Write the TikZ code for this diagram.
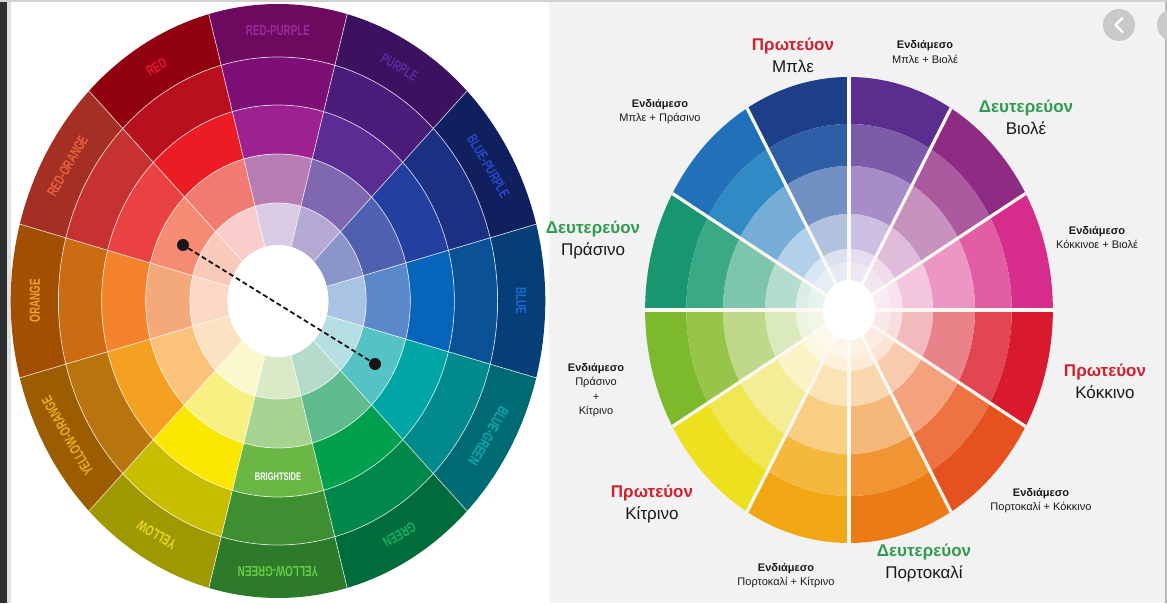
\documentclass[tikz,border=0pt]{standalone}
\usepackage{fontspec}
\usepackage{graphicx}
\setmainfont{Liberation Sans}
\definecolor{primred}{HTML}{D2202E}
\definecolor{secgreen}{HTML}{2E9B4E}
\definecolor{panelgray}{HTML}{F2F2F2}
\definecolor{stripgray}{HTML}{2C3031}
\definecolor{spokecream}{HTML}{FBF8F1}
\definecolor{dotblack}{HTML}{1A1414}

% annular wedge: colour, start angle, end angle, inner radius, outer radius
\newcommand{\wedgefill}[5]{%
  \fill[#1] (#2:#5) arc[start angle=#2, end angle=#3, radius=#5]
    -- (#3:#4) arc[start angle=#3, end angle=#2, radius=#4] -- cycle;}
% narrow capitals for the wheel names
\newcommand{\narrow}[1]{\scalebox{0.68}[1]{#1}}

\begin{document}
\begin{tikzpicture}[x=1pt, y=1pt,
  % Wheel styles
  ringline/.style={draw=white, line width=0.7pt, opacity=0.75},
  spoke/.style={draw=spokecream, line width=3.2pt},
  wheelname/.style={font=\bfseries\fontsize{14.5}{14.5}\selectfont, inner sep=0pt},
  brand/.style={font=\bfseries\fontsize{11}{11}\selectfont, text=white, inner sep=0pt},
  % Complement pair
  dot/.style={circle, fill=dotblack, minimum size=12pt, inner sep=0pt},
  pair/.style={draw=dotblack, line width=1.8pt, dash pattern=on 5pt off 3pt},
  % Label styles
  bigname/.style={font=\fontsize{17}{22}\selectfont, align=center, text=black!90},
  midname/.style={font=\fontsize{11}{14.5}\selectfont, align=center, text=black!90},
  btn/.style={circle, fill=black!21, minimum size=32pt, inner sep=0pt},
  chev/.style={draw=white, line width=2.4pt, line cap=round, line join=round},
]
\useasboundingbox (0,0) rectangle (1167,603);

% === Panels ===
\fill[stripgray] (0,0) rectangle (7,603);
\fill[black!12] (7,0) rectangle (11,603);
\fill[white] (11,0) rectangle (549,601);
\fill[panelgray] (549,0) rectangle (1165,601);
\fill[black!28] (1165,0) rectangle (1167,603);
\fill[black!18] (0,601) rectangle (1167,603);

% === Left wheel ===
\begin{scope}[shift={(278,302)}, xscale=0.9]
  \foreach \a/\ca/\cb/\cc/\cd/\ce in {
      90/6D0A5F/7E0F77/9E2191/B97DB6/D9CBE3,
      60/3C1260/4A1D7A/5B2D93/8068B0/B3A9D3,
      30/10205F/1B3082/233FA0/5060B0/8C95CA,
      0/063F78/0A5196/0665BA/5A88CB/A9C3E4,
      -30/006A72/008A8C/00A6A6/55C3C3/B5DFE2,
      -60/006B3B/00874A/00A04E/5DBB8D/B6DBCB,
      -90/2E7A2B/3E8F32/6BB745/A6D38F/DAE9C7,
      -120/9E9900/C9BD00/FBE800/F8F081/FBF8CD,
      -150/9B5D00/B9750D/F4A021/FAC27B/FCE1C2,
      180/A34F02/CB6B12/F4832B/F4A97A/FBD8C5,
      150/A52F22/C63131/EA4142/F48B72/F9C9BA,
      120/91000F/B8111D/EC1C24/F17B71/F8CDCB}{
    \pgfmathsetmacro\sa{\a-15}
    \pgfmathsetmacro\ea{\a+15}
    \definecolor{wa}{HTML}{\ca}\definecolor{wb}{HTML}{\cb}
    \definecolor{wc}{HTML}{\cc}\definecolor{wd}{HTML}{\cd}
    \definecolor{we}{HTML}{\ce}
    \wedgefill{wa}{\sa}{\ea}{244}{297}
    \wedgefill{wb}{\sa}{\ea}{196}{244}
    \wedgefill{wc}{\sa}{\ea}{147}{196}
    \wedgefill{wd}{\sa}{\ea}{98}{147}
    \wedgefill{we}{\sa}{\ea}{56}{98}
  }
  % thin ring and spoke lines
  \foreach \r in {98,147,196,244}
    \draw[ringline] (0,0) circle[radius=\r];
  \foreach \b in {15,45,...,345}
    \draw[ringline] (\b:56) -- (\b:297);
  \fill[white] (0,0) circle[radius=56];
  % outer ring names
  \foreach \a/\wname/\tc in {
      90/RED-PURPLE/9B2A99, 60/PURPLE/5A2AA0, 30/BLUE-PURPLE/2A48C8,
      0/BLUE/1A6AD0, -30/BLUE-GREEN/10A8B0, -60/GREEN/1CB060,
      -90/YELLOW-GREEN/66CC44, -120/YELLOW/E8D820, -150/YELLOW-ORANGE/E8B020,
      180/ORANGE/F0A030, 150/RED-ORANGE/E86040, 120/RED/E0182A}{
    \definecolor{lbl}{HTML}{\tc}
    \node[wheelname, text=lbl, rotate=\a-90] (n\a) at (\a:270) {\narrow{\wname}};
  }
  \node[brand] (brand) at (-90:176) {\narrow{BRIGHTSIDE}};
\end{scope}

% complementary pair
\node[dot] (dotA) at (183,358) {};
\node[dot] (dotB) at (375,239) {};
\draw[pair] (dotA) -- (dotB);

% === Right wheel ===
\begin{scope}[shift={(849,293)}, xscale=0.875]
  \foreach \a/\ca/\cb/\cc/\cd/\ce in {
      105/1C3F87/2D5EA6/7090C4/B2C2DE/DAE2F0,
      75/5B2D8E/7C5CA9/A68DC8/CDBFE1/E6DEF0,
      45/8E2C84/AB5AA0/C892BE/DFBCD9/EEDCEB,
      15/D62C8C/E35DA5/EC97C3/F4C6DD/F9E2EE,
      -15/D91A2D/E24652/EA8389/F3BABE/F9DDDF,
      -45/E5521F/ED7442/F3A27C/F8CBAE/FBE4D6,
      -75/EB7B15/F09434/F5B87A/F9D7AF/FCEBD7,
      -105/F1A613/F5B83C/F8CF82/FBE3B5/FDF1DA,
      -135/EDE11F/F1E755/F5ED95/F9F3C5/FCF9E2,
      195/7DB92D/97C549/BDD989/DBEABD/EDF4DE,
      165/17966F/3BA985/7DC5AB/B5DDCD/DAEEE6,
      135/2071B9/308BC5/75ADD7/B1D0E9/D8E7F4}{
    \pgfmathsetmacro\sa{\a-15}
    \pgfmathsetmacro\ea{\a+15}
    \definecolor{wa}{HTML}{\ca}\definecolor{wb}{HTML}{\cb}
    \definecolor{wc}{HTML}{\cc}\definecolor{wd}{HTML}{\cd}
    \definecolor{we}{HTML}{\ce}
    \wedgefill{wa}{\sa}{\ea}{186}{233}
    \wedgefill{wb}{\sa}{\ea}{144}{186}
    \wedgefill{wc}{\sa}{\ea}{96}{144}
    \wedgefill{wd}{\sa}{\ea}{61}{96}
    \wedgefill{we}{\sa}{\ea}{30}{61}
  }
  \foreach \b in {0,30,...,150}
    \draw[spoke] (\b:233) -- ({\b+180}:233);
  \fill[white, opacity=0.3] (0,0) circle[radius=48];
  \fill[white] (0,0) circle[radius=30];
\end{scope}

% === Right wheel labels ===
\node[bigname] (blue)    at (793,548)   {{\color{primred}\bfseries Πρωτεύον}\\Μπλε};
\node[midname] (bluevio) at (925,551)   {\textbf{Ενδιάμεσο}\\Μπλε + Βιολέ};
\node[midname] (bluegrn) at (660,491.5) {\textbf{Ενδιάμεσο}\\Μπλε + Πράσινο};
\node[bigname] (violet)  at (1026,485.5){{\color{secgreen}\bfseries Δευτερεύον}\\Βιολέ};
\node[bigname] (green)   at (593,363)   {{\color{secgreen}\bfseries Δευτερεύον}\\Πράσινο};
\node[midname] (redvio)  at (1097,365.5){\textbf{Ενδιάμεσο}\\Κόκκινοε + Βιολέ};
\node[midname] (grnyel)  at (596,213)   {\textbf{Ενδιάμεσο}\\Πράσινο\\+\\Κίτρινο};
\node[bigname] (red)     at (1105,222)  {{\color{primred}\bfseries Πρωτεύον}\\Κόκκινο};
\node[bigname] (yellow)  at (652,99)    {{\color{primred}\bfseries Πρωτεύον}\\Κίτρινο};
\node[midname] (orred)   at (1041,102.5){\textbf{Ενδιάμεσο}\\Πορτοκαλί + Κόκκινο};
\node[bigname] (orange)  at (924,40)    {{\color{secgreen}\bfseries Δευτερεύον}\\Πορτοκαλί};
\node[midname] (oryel)   at (786,27.5)  {\textbf{Ενδιάμεσο}\\Πορτοκαλί + Κίτρινο};

% === Slide buttons ===
\node[btn] (back) at (1119,578) {};
\draw[chev] ([shift={(3.5,7)}]back.center) -- ([shift={(-3.5,0)}]back.center)
  -- ([shift={(3.5,-7)}]back.center);
\node[btn] (next) at (1173,578) {};

\end{tikzpicture}
\end{document}
